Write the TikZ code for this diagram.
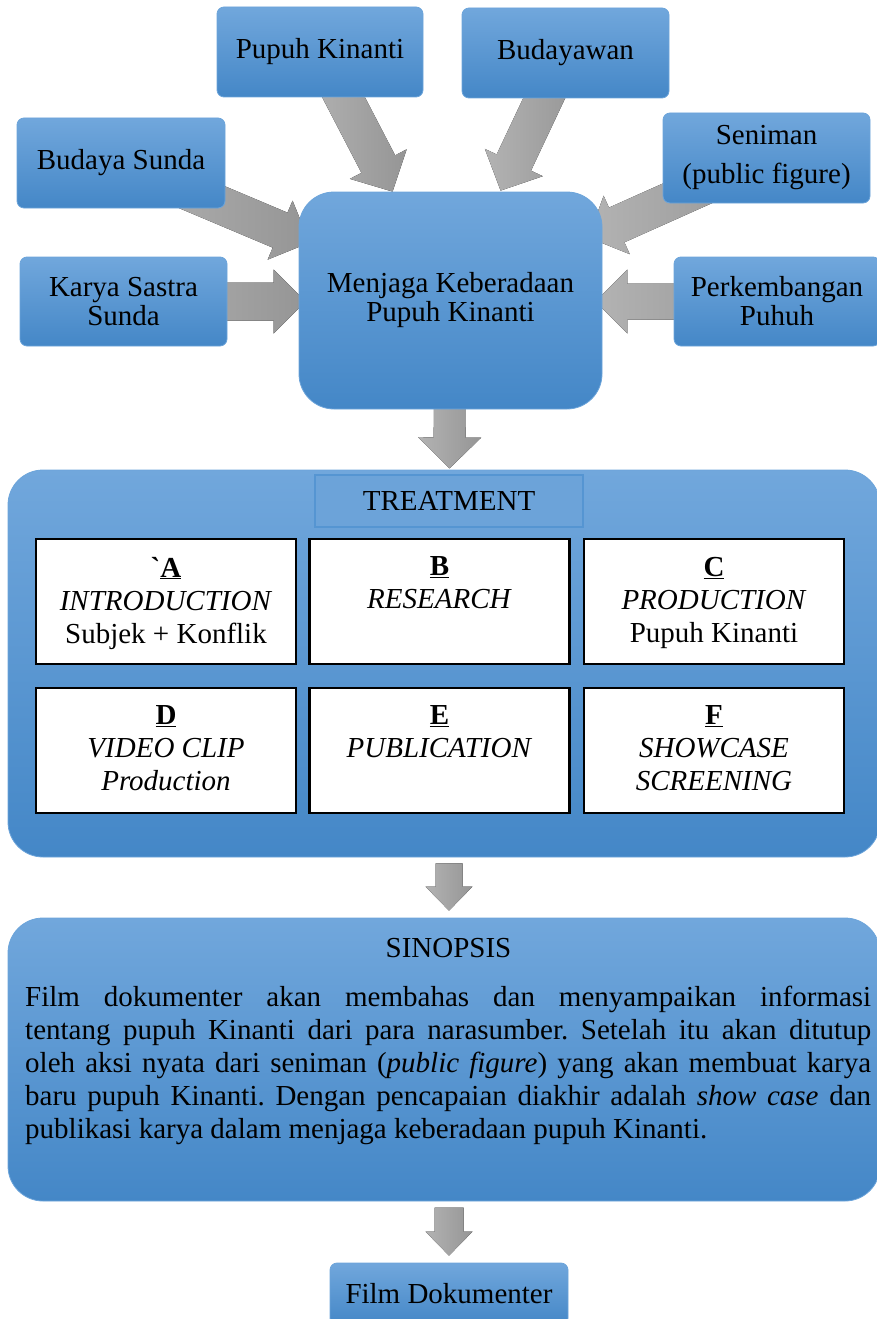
\documentclass[tikz,border=0pt]{standalone}
\usepackage{fontspec}
\setmainfont{Liberation Serif}[Ligatures=TeXOff]
\usetikzlibrary{calc,backgrounds}
\frenchspacing
\definecolor{btop}{HTML}{71A7DC}
\definecolor{bbot}{HTML}{4487C7}
\definecolor{bline}{HTML}{6CA4DA}
\definecolor{lline}{HTML}{5595D2}
\definecolor{atop}{HTML}{B3B3B3}
\definecolor{abot}{HTML}{959595}
\newcommand\bigfont{\fontsize{29}{29}\selectfont}
\newcommand\midfont{\fontsize{29}{33}\selectfont}
\tikzset{
  bluebox/.style={draw=bline, line width=0.8pt, top color=btop, bottom color=bbot,
    rounded corners=7pt, inner sep=0pt, align=center, font=\bigfont},
  bigblue/.style={bluebox, rounded corners=35pt},
  whitebox/.style={draw=black, line width=2.5pt, fill=white,
    minimum width=260pt, minimum height=125pt, inner sep=0pt},
  boxtext/.style={anchor=north, align=center, font=\midfont, inner sep=0pt},
  arrowfill/.style={left color=atop, right color=abot},
}
% block arrow: [options]{from}{to}{shaft half width}{head half width}{head length}
\newcommand\barrow[6][]{%
  \coordinate (bah) at ($(#3)!#6!(#2)$);
  \fill[arrowfill,#1] ($(#2)!#4!90:(#3)$) -- ($(bah)!#4!90:(#3)$) -- ($(bah)!#5!90:(#3)$)
    -- (#3) -- ($(bah)!#5!-90:(#3)$) -- ($(bah)!#4!-90:(#3)$) -- ($(#2)!#4!-90:(#3)$) -- cycle;}
\begin{document}
\begin{tikzpicture}[x=1pt,y=-1pt]
\useasboundingbox (0,0) rectangle (877,1319);
% top boxes
\node[bluebox, minimum width=206pt, minimum height=90pt] (pk) at (320,52) {Pupuh Kinanti};
\node[bluebox, minimum width=207pt, minimum height=90pt] (bw) at (565.5,53) {Budayawan};
\node[bluebox, minimum width=208pt, minimum height=90pt] (bs) at (121,163) {Budaya Sunda};
\node[bluebox, minimum width=207pt, minimum height=90pt, font=\fontsize{29}{39}\selectfont] (sn) at (766.5,158) {Seniman\\(public figure)};
\node[bluebox, minimum width=207pt, minimum height=89pt] (ks) at (123.5,301.5) {Karya Sastra\\Sunda};
\node[bluebox, minimum width=206pt, minimum height=89pt] (pb) at (777,301.5) {Perkembangan\\Puhuh};
% centre
\node[bigblue, minimum width=303pt, minimum height=217pt] (mc) at (450.5,300.5) {Menjaga Keberadaan\\Pupuh Kinanti};
% treatment
\node[bigblue, minimum width=872pt, minimum height=387pt] (tr) at (444,663.5) {};
\node[draw=lline, line width=1.6pt, fill=btop!88!bbot, minimum width=268pt, minimum height=52pt,
  inner sep=0pt, font=\bigfont] (tl) at (449,501) {TREATMENT};
\node[whitebox] (ba) at (166,601.5) {};
\node[whitebox] (bb) at (439.5,601.5) {};
\node[whitebox] (bc) at (714,601.5) {};
\node[whitebox] (bd) at (166,750.5) {};
\node[whitebox] (be) at (439.5,750.5) {};
\node[whitebox] (bf) at (714,750.5) {};
\node[boxtext] (ta) at ($(ba.north)+(0,19)$) {\textbf{`\underline{A}}\\\textit{INTRODUCTION}\\Subjek + Konflik};
\node[boxtext] (tb) at ($(bb.north)+(0,19)$) {\textbf{\underline{B}}\\\textit{RESEARCH}};
\node[boxtext] (tc) at ($(bc.north)+(0,19)$) {\textbf{\underline{C}}\\\textit{PRODUCTION}\\Pupuh Kinanti};
\node[boxtext] (td) at ($(bd.north)+(0,19)$) {\textbf{\underline{D}}\\\textit{VIDEO CLIP}\\\textit{Production}};
\node[boxtext] (te) at ($(be.north)+(0,19)$) {\textbf{\underline{E}}\\\textit{PUBLICATION}};
\node[boxtext] (tf) at ($(bf.north)+(0,19)$) {\textbf{\underline{F}}\\\textit{SHOWCASE}\\\textit{SCREENING}};
% sinopsis
\node[bigblue, minimum width=872pt, minimum height=283pt] (sp) at (444,1059.5) {};
\node[font=\bigfont, inner sep=0pt] (st) at (448.5,948) {SINOPSIS};
\node[anchor=north west, inner sep=0pt, text width=846pt, align=justify, font=\midfont] (sx) at (25,986) {%
\tolerance=10000\relax\frenchspacing
Film dokumenter akan membahas dan menyampaikan informasi\linebreak
tentang pupuh Kinanti dari para narasumber. Setelah itu akan ditutup\linebreak
oleh aksi nyata dari seniman (\textit{public figure}) yang akan membuat karya\linebreak
baru pupuh Kinanti. Dengan pencapaian diakhir adalah \textit{show case} dan\linebreak
publikasi karya dalam menjaga keberadaan pupuh Kinanti.};
% film
\node[bluebox, minimum width=238pt, minimum height=62pt] (fd) at (449,1294) {Film Dokumenter};
% arrows
\begin{pgfonlayer}{background}
\coordinate (tpk) at ($(mc.north west)+(94,0)$);
\coordinate (tbw) at ($(mc.north west)+(202,-1)$);
\coordinate (tbs) at ($(mc.north west)+(11,51)$);
\coordinate (tsn) at ($(mc.north east)+(-14,46)$);
\coordinate (tks) at ($(mc.west)+(7,1)$);
\coordinate (tpb) at ($(mc.east)+(-7,1)$);
\coordinate (ttr) at ($(mc.south)+(-1,59)$);
\barrow{pk.center}{tpk}{19pt}{32pt}{31pt}
\barrow{bw.center}{tbw}{19pt}{32pt}{31pt}
\barrow{bs.center}{tbs}{19pt}{32pt}{32pt}
\barrow{sn.center}{tsn}{19pt}{32pt}{31pt}
\barrow{ks.center}{tks}{19pt}{32pt}{32pt}
\barrow{pb.center}{tpb}{18pt}{32pt}{32pt}
\barrow{mc.center}{ttr}{16pt}{31.5pt}{31pt}
\coordinate (str) at ($(tr.south)+(5,6)$);
\coordinate (tsp) at ($(sp.north)+(5,-7)$);
\barrow{str}{tsp}{13.5pt}{23.5pt}{24pt}
\coordinate (ssp) at ($(fd.north)+(0,-55)$);
\coordinate (tfd) at ($(fd.north)+(0,-7)$);
\barrow{ssp}{tfd}{14.5pt}{23.5pt}{24pt}
\end{pgfonlayer}
\end{tikzpicture}
\end{document}
